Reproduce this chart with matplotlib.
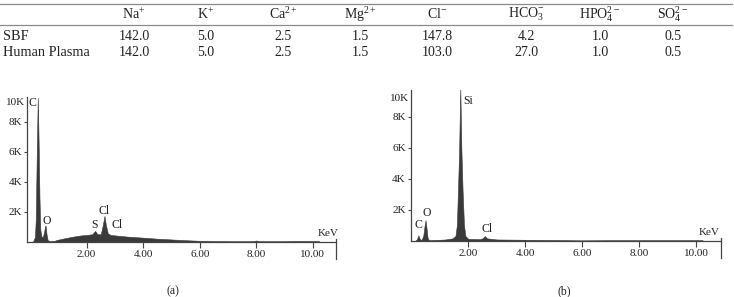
import matplotlib
matplotlib.use("Agg")
import matplotlib.pyplot as plt
from matplotlib.lines import Line2D
from matplotlib.ticker import FuncFormatter
import matplotlib.transforms as mtransforms

plt.rcParams['font.family'] = ['Liberation Serif', 'DejaVu Serif']
plt.rcParams['mathtext.fontset'] = 'custom'
plt.rcParams['mathtext.rm'] = 'Liberation Serif'
plt.rcParams['mathtext.it'] = 'Liberation Serif:italic'
plt.rcParams['mathtext.bf'] = 'Liberation Serif:bold'

# ---------------- data ----------------
ions = ["Na$^{+}$", "K$^{+}$", "Ca$^{2+}$", "Mg$^{2+}$", "Cl$^{-}$",
        "HCO$_{3}^{-}$", "HPO$_{4}^{2-}$", "SO$_{4}^{2-}$"]
row_names = ["SBF", "Human Plasma"]
sbf_values = ["142.0", "5.0", "2.5", "1.5", "147.8", "4.2", "1.0", "0.5"]
plasma_values = ["142.0", "5.0", "2.5", "1.5", "103.0", "27.0", "1.0", "0.5"]

# spectrum (a): energy in keV, counts
energy_a = [0.10, 0.17, 0.20, 0.24, 0.27, 0.30, 0.33, 0.36, 0.40, 0.45, 0.50,
            0.53, 0.55, 0.58, 0.62, 0.70, 0.85, 0.95, 1.20, 1.50, 1.80, 2.00,
            2.20, 2.30, 2.38, 2.50, 2.58, 2.63, 2.68, 2.75, 2.85, 3.00, 3.50,
            4.00, 4.50, 5.00, 5.50, 6.00, 6.50, 7.00, 7.50, 7.90, 8.00, 8.10,
            9.00, 9.50, 10.20, 10.25]
counts_a = [0, 300, 1500, 6500, 9600, 6700, 3000, 800, 350, 300, 700,
            1050, 1050, 500, 100, 30, 50, 120, 220, 330, 420, 450,
            500, 720, 500, 500, 1200, 1720, 1100, 550, 450, 420, 330,
            270, 200, 150, 100, 60, 40, 30, 30, 30, 80, 30,
            30, 50, 40, 0]

# spectrum (b)
energy_b = [0.15, 0.20, 0.25, 0.30, 0.36, 0.42, 0.47, 0.50, 0.53, 0.57, 0.62,
            0.90, 1.20, 1.45, 1.55, 1.60, 1.64, 1.68, 1.72, 1.76, 1.80, 1.85,
            1.90, 2.00, 2.40, 2.50, 2.58, 2.66, 3.00, 4.00, 5.00, 6.00, 7.00,
            8.00, 9.00, 10.20, 10.25]
counts_b = [0, 100, 340, 100, 50, 300, 1000, 1320, 900, 200, 30,
            50, 80, 150, 300, 1000, 3300, 5800, 9900, 5800, 3300, 1000,
            300, 120, 100, 150, 300, 150, 80, 60, 40, 20, 30,
            30, 30, 30, 0]

xticks_kev = [2, 4, 6, 8, 10]
yticks_counts = [2000, 4000, 6000, 8000]

labels_a = [("C", 0.07, 9230), ("O", 0.58, 1390), ("S", 2.29, 1120),
            ("Cl", 2.62, 2050), ("Cl", 3.07, 1120)]
labels_b = [("C", 0.25, 990), ("O", 0.56, 1800), ("Si", 2.0, 9000),
            ("Cl", 2.67, 770)]

# ---------------- figure ----------------
W, H = 734, 297
fig = plt.figure(figsize=(W / 100, H / 100), dpi=100)
fig.patch.set_facecolor("white")

def fx(x):
    return x / W

def fy(y):
    return 1 - y / H

txt_color = "#222222"

# table
rule_color = "#8a8a8a"
fig.add_artist(Line2D([0, fx(732)], [fy(4), fy(4)], color=rule_color, lw=0.9))
fig.add_artist(Line2D([0, fx(732)], [fy(24.5), fy(24.5)], color=rule_color, lw=0.9))

col_x = [134, 206, 283, 360, 437, 526, 600, 673]
header_y = 14.5
for cx, lab in zip(col_x, ions):
    fig.text(fx(cx), fy(header_y), lab, ha="center", va="center",
             fontsize=10, color=txt_color)
for ry, name, vals in [(36.5, row_names[0], sbf_values),
                       (52, row_names[1], plasma_values)]:
    fig.text(fx(3), fy(ry), name, ha="left", va="center", fontsize=10.3,
             color=txt_color)
    for cx, v in zip(col_x, vals):
        fig.text(fx(cx), fy(ry), v, ha="center", va="center", fontsize=10,
                 color=txt_color)


def make_spectrum(left, right, top, bottom, xlim, ylim, energy, counts,
                  labels, ten_k_y, kev_pos):
    ax = fig.add_axes([fx(left), fy(bottom), (right - left) / W,
                       (bottom - top) / H])
    ax.fill_between(energy, counts, 0, color="#3a3a3a", lw=0.4,
                    edgecolor="#3a3a3a")
    ax.set_xlim(*xlim)
    ax.set_ylim(*ylim)
    for s in ["top", "right"]:
        ax.spines[s].set_visible(False)
    for s in ["left", "bottom"]:
        ax.spines[s].set_color("#444444")
        ax.spines[s].set_linewidth(0.9)
    ax.set_xticks(xticks_kev)
    ax.set_xticklabels([f"{v:.2f}" for v in xticks_kev])
    ax.set_yticks(yticks_counts)
    ax.yaxis.set_major_formatter(FuncFormatter(lambda v, p: f"{int(v / 1000)}K"))
    ax.tick_params(axis="x", direction="out", length=4, width=0.8,
                   color="#444444", labelsize=8, labelcolor=txt_color, pad=2.2)
    ax.tick_params(axis="y", direction="out", length=2.5, width=0.8,
                   color="#444444", labelsize=8, labelcolor=txt_color, pad=1)
    # 10K label at top of axis
    trans = mtransforms.blended_transform_factory(ax.transAxes, ax.transData)
    ax.annotate("10K", xy=(0, ten_k_y), xycoords=trans, xytext=(-1.5, 0),
                textcoords="offset points", ha="right", va="center",
                fontsize=8, color=txt_color)
    # end tick at the right of the energy axis
    h = bottom - top
    ax.plot([1, 1], [3 / h, -17 / h], transform=ax.transAxes, color="#444444",
            lw=0.9, clip_on=False)
    for t, x, y in labels:
        ax.text(x, y, t, ha="center", va="center", fontsize=8.5, color=txt_color)
    ax.text(kev_pos[0], kev_pos[1], "KeV", ha="center", va="center",
            fontsize=8, color=txt_color)
    return ax

make_spectrum(27.3, 335.7, 96.7, 241.7, (-0.10, 10.81), (0, 9670),
              energy_a, counts_a, labels_a, 9250, (10.54, 570))
make_spectrum(410.7, 720.7, 90.0, 240.7, (-0.02, 10.86), (0, 9720),
              energy_b, counts_b, labels_b, 9190, (10.46, 500))

fig.text(fx(173), fy(291), "(a)", ha="center", va="center", fontsize=8.5,
         color=txt_color)
fig.text(fx(564), fy(291), "(b)", ha="center", va="center", fontsize=8.5,
         color=txt_color)

fig.savefig("out.png", dpi=100, facecolor="white")
